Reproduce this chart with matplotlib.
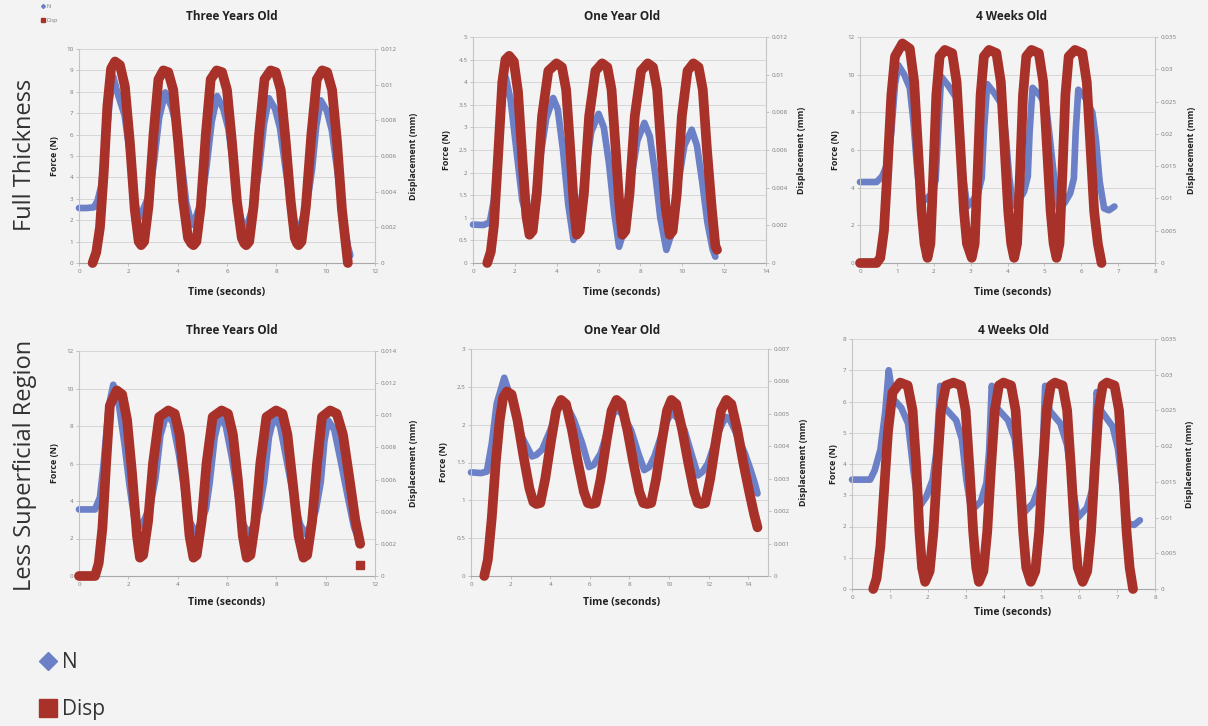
import numpy as np
import matplotlib.pyplot as plt
from matplotlib.lines import Line2D
from matplotlib.ticker import FuncFormatter

plt.rcParams['font.family'] = ['Open Sans', 'DejaVu Sans']

W, H = 1208, 726
BLUE = '#6b80c6'
RED = '#a8322a'
BG = '#f3f3f3'

# ---- Full thickness, three years old ----
ft3_n_t = [0, 0.3, 0.6, 0.75, 0.9, 1.1, 1.25, 1.39, 1.6, 1.85, 2.05, 2.25, 2.42,
           2.6, 2.85, 3.05, 3.25, 3.5, 3.75, 3.95, 4.15, 4.35, 4.57,
           4.75, 4.98, 5.18, 5.38, 5.6, 5.85, 6.05, 6.25, 6.45, 6.7,
           6.88, 7.1, 7.3, 7.5, 7.7, 7.95, 8.15, 8.35, 8.6, 8.85,
           9.02, 9.25, 9.45, 9.62, 9.8, 10.05, 10.25, 10.45, 10.7, 10.9, 11.0]
ft3_n = [2.57, 2.57, 2.6, 2.9, 3.6, 5.8, 7.6, 8.7, 7.8, 6.9, 5.2, 3.0, 2.1,
         2.5, 3.2, 4.8, 6.8, 7.97, 7.3, 6.4, 4.8, 2.8, 1.78,
         2.2, 2.9, 4.6, 6.6, 7.8, 7.2, 6.3, 4.6, 2.6, 1.54,
         2.0, 2.8, 4.4, 6.5, 7.7, 7.2, 6.3, 4.6, 2.6, 1.46,
         1.9, 2.8, 4.4, 6.4, 7.6, 7.1, 6.2, 4.5, 2.2, 0.8, 0.35]
ft3_d_t = [0.55, 0.7, 0.85, 1.0, 1.15, 1.3, 1.46, 1.66, 1.86, 2.06, 2.26, 2.42,
           2.52, 2.64, 2.82, 3.02, 3.22, 3.42, 3.62, 3.82, 4.02, 4.22, 4.42, 4.55,
           4.64, 4.76, 4.94, 5.14, 5.34, 5.58, 5.8, 6.0, 6.2, 6.4, 6.6, 6.7,
           6.78, 6.9, 7.08, 7.3, 7.52, 7.77, 7.98, 8.18, 8.38, 8.58, 8.75, 8.84,
           8.9, 9.02, 9.2, 9.42, 9.64, 9.86, 10.06, 10.26, 10.46, 10.66, 10.9]
ft3_d = [0.0, 0.0006, 0.002, 0.005, 0.0088, 0.0109, 0.0113, 0.0111, 0.0099, 0.0068, 0.003, 0.0012,
         0.001, 0.0012, 0.0032, 0.0072, 0.0103, 0.0108, 0.0107, 0.0097, 0.0068, 0.0035, 0.0014, 0.0011,
         0.001, 0.0012, 0.0032, 0.0072, 0.0103, 0.0108, 0.0107, 0.0097, 0.0068, 0.0035, 0.0014, 0.0011,
         0.001, 0.0012, 0.0032, 0.0072, 0.0103, 0.0108, 0.0107, 0.0097, 0.0068, 0.0035, 0.0014, 0.0011,
         0.001, 0.0012, 0.0032, 0.0072, 0.0103, 0.0108, 0.0107, 0.0097, 0.0068, 0.003, 0.0]

# ---- Full thickness, one year old ----
ft1_n_t = [0, 0.5, 0.8, 1.0, 1.2, 1.4, 1.57, 1.8, 2.05, 2.35, 2.62,
           2.9, 3.2, 3.5, 3.83, 4.05, 4.3, 4.55, 4.8,
           5.0, 5.3, 5.65, 6.0, 6.25, 6.5, 6.75, 6.98,
           7.2, 7.5, 7.85, 8.19, 8.45, 8.7, 8.95, 9.24,
           9.45, 9.75, 10.1, 10.45, 10.7, 10.95, 11.2, 11.45, 11.58]
ft1_n = [0.85, 0.84, 0.9, 1.4, 2.5, 3.6, 4.1, 3.6, 2.6, 1.4, 0.92,
         1.3, 2.3, 3.2, 3.65, 3.4, 2.5, 1.3, 0.51,
         0.8, 1.8, 2.9, 3.3, 3.0, 2.2, 1.1, 0.36,
         0.7, 1.7, 2.7, 3.1, 2.8, 2.0, 1.0, 0.29,
         0.6, 1.6, 2.6, 2.95, 2.6, 1.8, 0.9, 0.3, 0.14]
ft1_d_t = [0.68, 0.85, 1.0, 1.2, 1.4, 1.55, 1.73, 1.95, 2.15, 2.35, 2.55,
           2.7, 2.85, 3.05, 3.3, 3.6, 3.99, 4.25, 4.45, 4.65, 4.82,
           4.96, 5.1, 5.3, 5.55, 5.85, 6.17, 6.42, 6.62, 6.82, 7.0,
           7.14, 7.28, 7.48, 7.73, 8.03, 8.35, 8.6, 8.8, 9.0, 9.2,
           9.4, 9.54, 9.74, 9.98, 10.25, 10.53, 10.78, 10.98, 11.18, 11.4, 11.58, 11.66]
ft1_d = [0.0, 0.0006, 0.002, 0.0057, 0.0096, 0.0108, 0.011, 0.0107, 0.0091, 0.0057, 0.0025,
         0.0015, 0.0017, 0.0037, 0.0078, 0.0102, 0.0106, 0.0104, 0.0092, 0.006, 0.003,
         0.0015, 0.0017, 0.0037, 0.0078, 0.0102, 0.0106, 0.0104, 0.0092, 0.006, 0.003,
         0.0015, 0.0017, 0.0037, 0.0078, 0.0102, 0.0106, 0.0104, 0.0092, 0.006, 0.003,
         0.0015, 0.0017, 0.0037, 0.0078, 0.0102, 0.0106, 0.0104, 0.0092, 0.006, 0.003, 0.0009, 0.0007]

# ---- Full thickness, 4 weeks old ----
ftw_n_t = [0, 0.45, 0.6, 0.75, 0.85, 0.95, 1.04, 1.2, 1.35, 1.45, 1.55, 1.65,
           1.8, 1.95, 2.05, 2.12, 2.2, 2.4, 2.6, 2.7, 2.8, 2.91,
           3.05, 3.2, 3.3, 3.36, 3.45, 3.65, 3.85, 3.95, 4.05, 4.15,
           4.3, 4.45, 4.55, 4.6, 4.68, 4.88, 5.05, 5.15, 5.27, 5.39,
           5.55, 5.7, 5.8, 5.85, 5.92, 6.1, 6.3, 6.4, 6.5, 6.62, 6.75, 6.9]
ftw_n = [4.3, 4.3, 4.6, 5.3, 7.0, 9.5, 10.5, 10.0, 9.3, 7.5, 5.0, 3.2,
         3.4, 3.7, 4.4, 7.0, 9.9, 9.4, 8.8, 7.0, 4.5, 3.0,
         3.3, 3.7, 4.5, 7.0, 9.5, 9.0, 8.4, 6.8, 4.5, 3.05,
         3.3, 3.8, 4.6, 7.0, 9.3, 8.9, 8.3, 6.6, 4.4, 2.9,
         3.2, 3.7, 4.5, 7.0, 9.2, 8.8, 8.0, 6.5, 4.3, 2.9, 2.8, 3.0]
ftw_d_t = [0, 0.45, 0.55, 0.65, 0.75, 0.85, 0.95, 1.15, 1.35, 1.47, 1.57, 1.67, 1.75,
           1.83, 1.91, 1.99, 2.07, 2.16, 2.3, 2.5, 2.62, 2.72, 2.82, 2.9,
           3.03, 3.11, 3.19, 3.27, 3.36, 3.5, 3.7, 3.82, 3.92, 4.02, 4.1,
           4.18, 4.26, 4.34, 4.42, 4.51, 4.65, 4.85, 4.97, 5.07, 5.17, 5.25,
           5.33, 5.41, 5.49, 5.57, 5.66, 5.83, 6.03, 6.15, 6.25, 6.35, 6.45, 6.55]
ftw_d = [0, 0, 0.0008, 0.005, 0.015, 0.026, 0.032, 0.034, 0.0332, 0.028, 0.018, 0.008, 0.003,
         0.0008, 0.003, 0.014, 0.026, 0.032, 0.033, 0.0325, 0.028, 0.018, 0.008, 0.003,
         0.0008, 0.003, 0.014, 0.026, 0.032, 0.033, 0.0325, 0.028, 0.018, 0.008, 0.003,
         0.0008, 0.003, 0.014, 0.026, 0.032, 0.033, 0.0325, 0.028, 0.018, 0.008, 0.003,
         0.0008, 0.003, 0.014, 0.026, 0.032, 0.033, 0.0325, 0.028, 0.018, 0.008, 0.003, 0.0]

# ---- Less superficial region, three years old ----
ls3_n_t = [0, 0.65, 0.85, 1.0, 1.2, 1.39, 1.6, 1.85, 2.05, 2.25, 2.4,
           2.65, 2.9, 3.1, 3.3, 3.55, 3.8, 4.05, 4.3, 4.5, 4.7,
           4.95, 5.15, 5.3, 5.5, 5.7, 5.95, 6.2, 6.45, 6.65, 6.86,
           7.1, 7.3, 7.5, 7.7, 7.9, 8.15, 8.4, 8.7, 8.95, 9.16,
           9.4, 9.6, 9.8, 9.95, 10.1, 10.35, 10.6, 10.9, 11.15, 11.4]
ls3_n = [3.55, 3.55, 4.2, 6.0, 9.0, 10.2, 9.3, 7.0, 4.8, 3.0, 2.55,
         3.0, 3.8, 5.2, 7.5, 8.66, 8.2, 6.5, 4.3, 2.9, 2.35,
         2.8, 3.6, 5.0, 7.4, 8.5, 8.0, 6.3, 4.2, 2.8, 2.25,
         2.7, 3.5, 5.0, 7.4, 8.5, 8.0, 6.3, 4.2, 2.8, 2.25,
         2.7, 3.5, 5.0, 7.2, 8.3, 7.8, 6.2, 4.2, 2.6, 1.75]
ls3_d_t = [0, 0.65, 0.8, 0.95, 1.1, 1.25, 1.53, 1.75, 1.95, 2.15, 2.35,
           2.47, 2.6, 2.8, 3.0, 3.25, 3.62, 3.88, 4.08, 4.28, 4.48,
           4.64, 4.77, 4.97, 5.17, 5.42, 5.78, 6.04, 6.24, 6.44, 6.64,
           6.8, 6.95, 7.15, 7.35, 7.6, 7.99, 8.25, 8.45, 8.65, 8.9,
           9.1, 9.25, 9.45, 9.65, 9.85, 10.18, 10.45, 10.7, 10.95, 11.2, 11.4]
ls3_d = [0, 0, 0.0008, 0.003, 0.007, 0.0106, 0.01155, 0.0113, 0.0097, 0.0064, 0.0025,
         0.00114, 0.0013, 0.0034, 0.007, 0.0099, 0.0103, 0.0101, 0.0088, 0.006, 0.0025,
         0.00114, 0.0013, 0.0034, 0.007, 0.0099, 0.0103, 0.0101, 0.0088, 0.006, 0.0025,
         0.00114, 0.0013, 0.0034, 0.007, 0.0099, 0.0103, 0.0101, 0.0088, 0.006, 0.0025,
         0.00114, 0.0013, 0.0034, 0.007, 0.0099, 0.0103, 0.0101, 0.0088, 0.0062, 0.0035, 0.002]
ls3_d_last_t = [11.4]
ls3_d_last = [0.00067]

# ---- Less superficial region, one year old ----
ls1_n_t = [0, 0.5, 0.8, 1.05, 1.3, 1.68, 2.15, 2.57, 3.08,
           3.3, 3.59, 4.01, 4.43, 4.64, 4.9, 5.2, 5.62, 5.96,
           6.2, 6.55, 6.97, 7.2, 7.4, 7.7, 8.08, 8.45, 8.75,
           9.0, 9.26, 9.77, 10.0, 10.19, 10.45, 10.78, 11.15, 11.46,
           11.7, 11.97, 12.48, 12.7, 12.9, 13.1, 13.32, 13.83, 14.1, 14.34, 14.47]
ls1_n = [1.37, 1.36, 1.38, 1.75, 2.28, 2.62, 2.24, 1.84, 1.58,
         1.6, 1.67, 1.93, 2.24, 2.3, 2.22, 2.06, 1.75, 1.44,
         1.47, 1.62, 1.98, 2.15, 2.2, 2.12, 1.93, 1.62, 1.4,
         1.44, 1.58, 1.98, 2.1, 2.15, 2.08, 1.93, 1.6, 1.33,
         1.38, 1.49, 1.89, 2.02, 2.1, 2.05, 1.93, 1.62, 1.42, 1.22, 1.09]
ls1_d_t = [0.67, 0.85, 1.05, 1.25, 1.45, 1.62, 1.81, 2.05, 2.35, 2.65, 2.95, 3.15,
           3.3, 3.5, 3.75, 4.05, 4.3, 4.55, 4.8, 5.1, 5.4, 5.7, 5.9,
           6.1, 6.3, 6.55, 6.85, 7.1, 7.35, 7.6, 7.9, 8.2, 8.5, 8.7,
           8.9, 9.1, 9.35, 9.65, 9.9, 10.12, 10.37, 10.67, 10.97, 11.27, 11.45,
           11.63, 11.83, 12.08, 12.38, 12.63, 12.9, 13.15, 13.45, 13.75, 14.05, 14.3, 14.47]
ls1_d = [0, 0.0005, 0.0018, 0.0035, 0.0048, 0.0055, 0.00569, 0.0056, 0.0048, 0.0037, 0.0027, 0.00228,
         0.00222, 0.00225, 0.003, 0.0042, 0.0051, 0.00543, 0.0053, 0.0045, 0.0035, 0.0026, 0.00225,
         0.00222, 0.00225, 0.003, 0.0042, 0.0051, 0.00543, 0.0053, 0.0045, 0.0035, 0.0026, 0.00225,
         0.00222, 0.00225, 0.003, 0.0042, 0.0051, 0.00543, 0.0053, 0.0045, 0.0035, 0.0026, 0.00225,
         0.00222, 0.00225, 0.003, 0.0042, 0.0051, 0.00543, 0.0053, 0.0045, 0.0035, 0.0026, 0.0019, 0.0015]

# ---- Less superficial region, 4 weeks old ----
lsw_n_t = [0, 0.48, 0.6, 0.75, 0.88, 0.97, 1.08, 1.3, 1.48, 1.62, 1.76,
           1.96, 2.13, 2.23, 2.33, 2.45, 2.75, 2.9, 3.02, 3.15,
           3.4, 3.55, 3.62, 3.69, 3.82, 4.12, 4.3, 4.42, 4.54,
           4.78, 4.95, 5.03, 5.1, 5.22, 5.5, 5.68, 5.82, 5.96,
           6.2, 6.35, 6.4, 6.46, 6.58, 6.88, 7.02, 7.15, 7.28, 7.45, 7.6]
lsw_n = [3.5, 3.5, 3.8, 4.46, 5.7, 7.0, 6.1, 5.8, 5.3, 3.8, 2.6,
         2.95, 3.5, 4.4, 6.5, 5.8, 5.4, 4.8, 3.5, 2.5,
         2.8, 3.4, 4.4, 6.5, 5.8, 5.4, 4.8, 3.4, 2.44,
         2.75, 3.3, 4.3, 6.5, 5.7, 5.3, 4.6, 3.3, 2.28,
         2.6, 3.2, 4.3, 6.3, 5.7, 5.2, 4.5, 3.2, 2.1, 2.05, 2.2]
lsw_d_t = [0.56, 0.65, 0.75, 0.85, 0.95, 1.07, 1.27, 1.47, 1.6, 1.7, 1.78, 1.85,
           1.93, 2.05, 2.15, 2.25, 2.35, 2.48, 2.68, 2.88, 3.0, 3.1, 3.2, 3.28,
           3.35, 3.47, 3.57, 3.67, 3.77, 3.88, 4.0, 4.2, 4.32, 4.42, 4.52, 4.6,
           4.72, 4.84, 4.94, 5.04, 5.14, 5.25, 5.36, 5.56, 5.68, 5.78, 5.88, 5.96,
           6.09, 6.21, 6.31, 6.41, 6.51, 6.62, 6.73, 6.93, 7.05, 7.15, 7.25, 7.33, 7.42]
lsw_d = [0, 0.0015, 0.006, 0.014, 0.022, 0.0275, 0.0289, 0.0285, 0.025, 0.017, 0.008, 0.003,
         0.001, 0.0025, 0.008, 0.017, 0.025, 0.0285, 0.0289, 0.0285, 0.025, 0.017, 0.008, 0.003,
         0.001, 0.0025, 0.008, 0.017, 0.025, 0.0285, 0.0289, 0.0285, 0.025, 0.017, 0.008, 0.003,
         0.001, 0.0025, 0.008, 0.017, 0.025, 0.0285, 0.0289, 0.0285, 0.025, 0.017, 0.008, 0.003,
         0.001, 0.0025, 0.008, 0.017, 0.025, 0.0285, 0.0289, 0.0285, 0.025, 0.017, 0.008, 0.003, 0.0]

titles = ['Three Years Old', 'One Year Old', '4 Weeks Old',
          'Three Years Old', 'One Year Old', '4 Weeks Old']
row_labels = ['Full Thickness', 'Less Superficial Region']

# layout (pixels): left, top, right, bottom of each plot area
boxes = [(79, 49, 375, 263), (473, 37, 766, 263), (860, 37, 1155, 263),
         (79, 351, 375, 576), (471, 349, 768, 576), (852, 339, 1155, 589)]
# x max, x step, left y max, step, right y max, step
scales = [(12, 2, 10, 1, 0.012, 0.002), (14, 2, 5, 0.5, 0.012, 0.002), (8, 1, 12, 2, 0.035, 0.005),
          (12, 2, 12, 2, 0.014, 0.002), (15, 2, 3, 0.5, 0.007, 0.001), (8, 1, 8, 1, 0.035, 0.005)]
series = [(ft3_n_t, ft3_n, ft3_d_t, ft3_d), (ft1_n_t, ft1_n, ft1_d_t, ft1_d),
          (ftw_n_t, ftw_n, ftw_d_t, ftw_d), (ls3_n_t, ls3_n, ls3_d_t, ls3_d),
          (ls1_n_t, ls1_n, ls1_d_t, ls1_d), (lsw_n_t, lsw_n, lsw_d_t, lsw_d)]
title_pos = [(232, 16), (622, 16), (1012, 16), (232, 330), (622, 331), (1013, 330)]
xlabel_pos = [(227, 293), (622, 293), (1013, 293), (227, 603), (622, 603), (1013, 612)]
force_x = [55, 447, 835, 55, 443, 833]
disp_x = [413, 802, 1192, 413, 803, 1190]

fig = plt.figure(figsize=(W / 100, H / 100), dpi=100, facecolor=BG)


def ftext(x, y, s, **kw):
    return fig.text(x / W, 1 - y / H, s, ha='center', va='center', **kw)


fmt = FuncFormatter(lambda v, p: f'{v:g}')

for i in range(6):
    l, t, r, b = boxes[i]
    xmax, xstep, ymax, ystep, y2max, y2step = scales[i]
    n_t, n, d_t, d = series[i]

    ax = fig.add_axes([l / W, 1 - b / H, (r - l) / W, (b - t) / H])
    ax.patch.set_alpha(0)
    ax.plot(n_t, n, color=BLUE, lw=4.8, solid_capstyle='round',
            solid_joinstyle='round', clip_on=False)
    ax.set_xlim(0, xmax)
    ax.set_ylim(0, ymax)
    ax.set_xticks(np.arange(0, (xmax // xstep) * xstep + 1e-9, xstep))
    ax.set_yticks(np.arange(0, ymax + 1e-9, ystep))
    ax.xaxis.set_major_formatter(fmt)
    ax.yaxis.set_major_formatter(fmt)
    ax.yaxis.grid(True, color='#d6d6d6', lw=0.7)
    ax.set_axisbelow(True)
    ax.tick_params(labelsize=4.5, labelcolor='#7a7a7a', length=2, width=0.5,
                   color='#b0b0b0', pad=2)
    ax.spines['top'].set_visible(False)
    ax.spines['right'].set_visible(False)
    ax.spines['left'].set_color('#c4c4c4')
    ax.spines['bottom'].set_color('#a8a8a8')

    ax2 = ax.twinx()
    ax2.plot(d_t, d, color=RED, lw=7, solid_capstyle='round',
             solid_joinstyle='round', clip_on=False)
    if i == 3:
        ax2.plot(ls3_d_last_t, ls3_d_last, ls='', marker='s', ms=5.5,
                 color=RED, clip_on=False)
    ax2.set_ylim(0, y2max)
    ax2.set_yticks(np.arange(0, y2max + 1e-12, y2step))
    ax2.yaxis.set_major_formatter(fmt)
    ax2.tick_params(labelsize=4.5, labelcolor='#7a7a7a', length=2, width=0.5,
                    color='#b0b0b0', pad=2)
    for s in ['top', 'left', 'bottom']:
        ax2.spines[s].set_visible(False)
    ax2.spines['right'].set_color('#c4c4c4')

    ftext(*title_pos[i], titles[i], fontsize=8.5, fontweight='bold', color='#222222')
    ftext(*xlabel_pos[i], 'Time (seconds)', fontsize=7.5, fontweight='bold', color='#222222')
    ym = (t + b) / 2
    ftext(force_x[i], ym, 'Force (N)', fontsize=6.5, fontweight='bold',
          color='#222222', rotation=90)
    ftext(disp_x[i], ym, 'Displacement (mm)', fontsize=6.5, fontweight='bold',
          color='#222222', rotation=90)

ftext(25, 155, row_labels[0], fontsize=17, color='#333333', rotation=90)
ftext(25, 465, row_labels[1], fontsize=17, color='#333333', rotation=90)

# small legend at top left
small = [Line2D([], [], ls='', marker='D', ms=2, color=BLUE),
         Line2D([], [], ls='', marker='s', ms=3, color=RED)]
fig.legend(small, ['N', 'Disp'], loc='upper left', bbox_to_anchor=(38 / W, 1 - 1 / H),
           fontsize=4, frameon=False, handlelength=0.8, handletextpad=0.3,
           labelspacing=1.6, borderpad=0, labelcolor='#777777')

# large legend at bottom left
big = [Line2D([], [], ls='', marker='D', ms=9, color=BLUE),
       Line2D([], [], ls='', marker='s', ms=13, color=RED)]
fig.legend(big, ['N', 'Disp'], loc='upper left', bbox_to_anchor=(28 / W, 1 - 642 / H),
           fontsize=15, frameon=False, handlelength=0.9, handletextpad=0.25,
           labelspacing=1.25, borderpad=0, labelcolor='#333333')

fig.savefig('out.png', dpi=100, facecolor=BG)
